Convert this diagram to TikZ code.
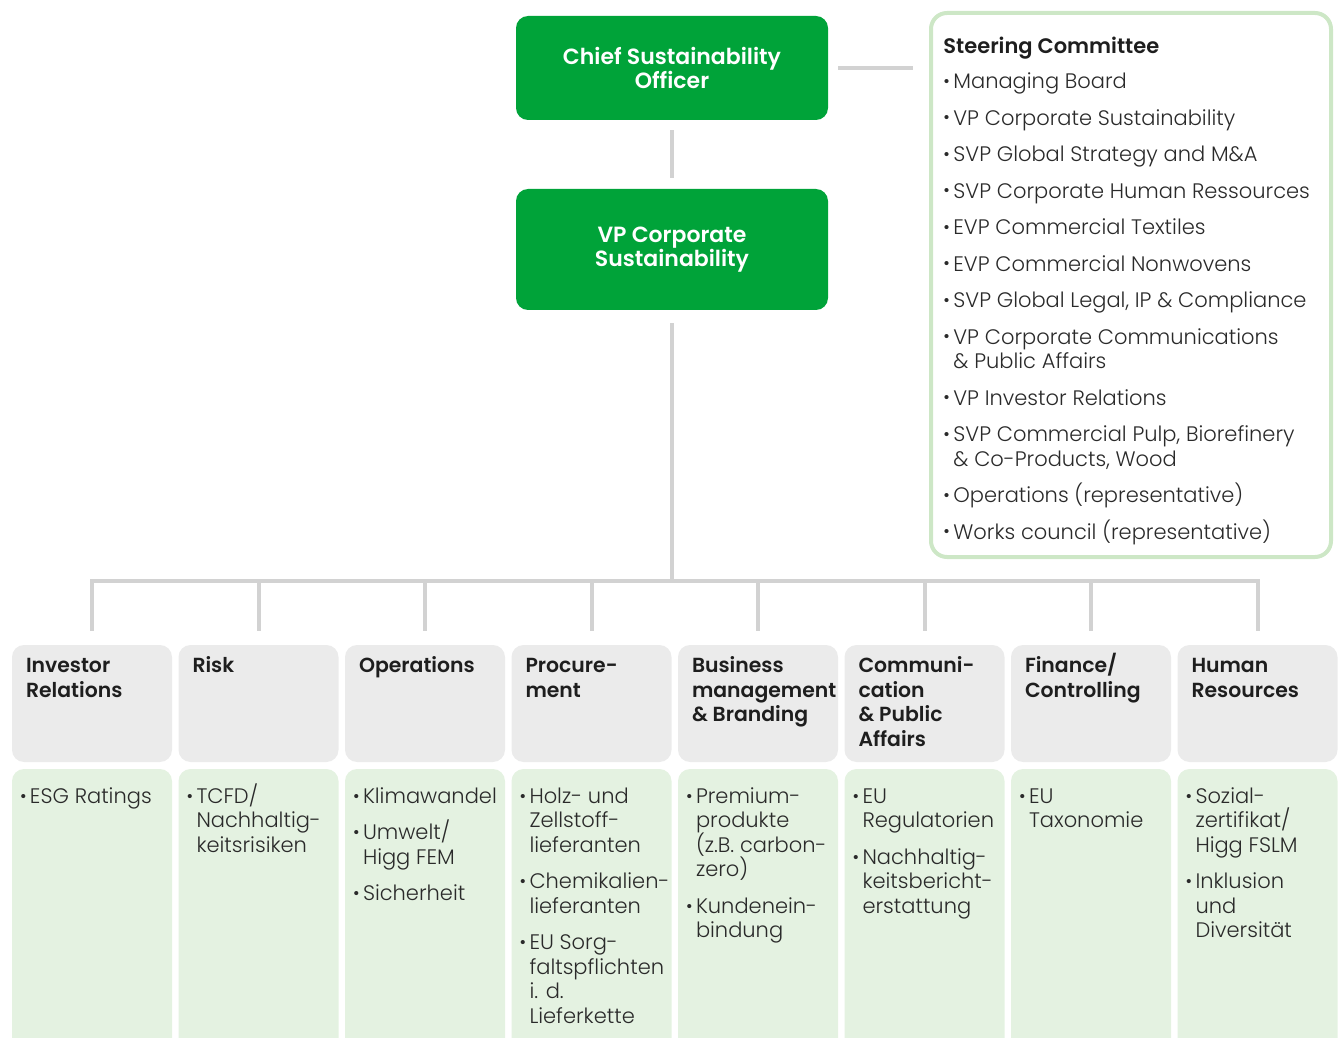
\documentclass[tikz,border=0pt]{standalone}
\usepackage{fontspec}
\usepackage{array}
\setmainfont{Poppins Light}[BoldFont={Poppins SemiBold}]
\usetikzlibrary{calc}

\definecolor{csgreen}{HTML}{00A339}
\definecolor{linegrey}{HTML}{D2D2D2}
\definecolor{headgrey}{HTML}{EBEBEB}
\definecolor{bodygreen}{HTML}{E4F2E1}
\definecolor{framegreen}{HTML}{CDE7C6}
\definecolor{titlec}{HTML}{1E1E1E}
\definecolor{txt}{HTML}{2A2A2A}

% rows keep a fixed pitch: cell contents are smashed, the strut sets the spacing
\newcolumntype{S}{>{\setbox2\hbox\bgroup}l<{\egroup\ht2=0pt\dp2=0pt\box2}}
\newcommand{\bl}{\raisebox{0.1ex}{\scalebox{0.85}{\textbullet}}}
\newenvironment{blist}{\begin{tabular}[t]{@{}p{5pt}@{}S@{}}}{\end{tabular}}
\newenvironment{hlist}{\begin{tabular}[t]{@{}S@{}}}{\end{tabular}}

\begin{document}
\begin{tikzpicture}[x=0.5pt,y=-0.5pt,
  conn/.style={draw=linegrey,line width=2pt},
  topbox/.style={fill=csgreen,rounded corners=6pt,minimum width=156pt,inner sep=0pt,
    text=white,align=center,font=\bfseries\fontsize{11}{12}\selectfont},
  headbox/.style={fill=headgrey,rounded corners=6pt,minimum width=80pt,minimum height=58.5pt,inner sep=0pt},
  bodybox/.style={fill=bodygreen,rounded corners=6pt,minimum width=80pt,minimum height=150pt,inner sep=0pt},
  headtext/.style={anchor=north west,inner sep=0pt,text=titlec,
    font=\bfseries\fontsize{10.2}{12.25}\selectfont},
  listtext/.style={anchor=north west,inner sep=0pt,text=txt,
    font=\fontsize{10.5}{12.25}\selectfont},
]
\useasboundingbox (0,0) rectangle (1341,1038);

\node[topbox,minimum height=52pt] (cso) at (672,68) {Chief Sustainability\\Officer};
\node[topbox,minimum height=60.5pt] (vp) at (672,249.5) {VP Corporate\\Sustainability};

\node[draw=framegreen,line width=2pt,rounded corners=8pt,minimum width=200pt,minimum height=272pt,inner sep=0pt] (steer) at (1131,285) {};
\node[listtext] (stxt) at ([xshift=7pt,yshift=-12.25pt]steer.north west) {\begin{blist}
\multicolumn{2}{@{}l@{}}{\bfseries\color{titlec}Steering Committee}\\[5.5pt]
\bl & Managing Board\\[6pt]
\bl & VP Corporate Sustainability\\[6pt]
\bl & SVP Global Strategy and M\&A\\[6pt]
\bl & SVP Corporate Human Ressources\\[6pt]
\bl & EVP Commercial Textiles\\[6pt]
\bl & EVP Commercial Nonwovens\\[6pt]
\bl & SVP Global Legal, IP \& Compliance\\[6pt]
\bl & VP Corporate Communications\\ & \& Public Affairs\\[6pt]
\bl & VP Investor Relations\\[6pt]
\bl & SVP Commercial Pulp, Biorefinery\\ & \& Co-Products, Wood\\[6pt]
\bl & Operations (representative)\\[6pt]
\bl & Works council (representative)
\end{blist}};

\foreach \i in {1,...,8}{
  \node[headbox] (h\i) at ({92+166.5*(\i-1)},703.5) {};
  \node[bodybox] (b\i) at ({92+166.5*(\i-1)},919) {};
}

\coordinate (bus) at (672,581);
\draw[conn] ([yshift=-5pt]cso.south) -- ([yshift=5.5pt]vp.north);
\draw[conn] ([xshift=5pt]cso.east) -- ($(steer.west |- cso.east)+(-16,0)$);
\draw[conn] ([yshift=-6.5pt]vp.south) -- (bus);
\draw[conn] ([yshift=7pt]h1.north) -- (h1.north |- bus) -- (h8.north |- bus) -- ([yshift=7pt]h8.north);
\foreach \i in {2,...,7}
  \draw[conn] (h\i.north |- bus) -- ([yshift=7pt]h\i.north);

\node[headtext] (ht1) at ([xshift=7pt,yshift=-5.25pt]h1.north west) {\begin{hlist}Investor\\Relations\end{hlist}};
\node[headtext] (ht2) at ([xshift=7pt,yshift=-5.25pt]h2.north west) {\begin{hlist}Risk\end{hlist}};
\node[headtext] (ht3) at ([xshift=7pt,yshift=-5.25pt]h3.north west) {\begin{hlist}Operations\end{hlist}};
\node[headtext] (ht4) at ([xshift=7pt,yshift=-5.25pt]h4.north west) {\begin{hlist}Procure-\\ment\end{hlist}};
\node[headtext] (ht5) at ([xshift=7pt,yshift=-5.25pt]h5.north west) {\begin{hlist}Business\\management\\\& Branding\end{hlist}};
\node[headtext] (ht6) at ([xshift=7pt,yshift=-5.25pt]h6.north west) {\begin{hlist}Communi-\\cation\\\& Public\\Affairs\end{hlist}};
\node[headtext] (ht7) at ([xshift=7pt,yshift=-5.25pt]h7.north west) {\begin{hlist}Finance/\\Controlling\end{hlist}};
\node[headtext] (ht8) at ([xshift=7pt,yshift=-5.25pt]h8.north west) {\begin{hlist}Human\\Resources\end{hlist}};

\node[listtext] (lt1) at ([xshift=4pt,yshift=-8.6pt]b1.north west) {\begin{blist}
\bl & ESG Ratings
\end{blist}};
\node[listtext] (lt2) at ([xshift=4pt,yshift=-8.6pt]b2.north west) {\begin{blist}
\bl & TCFD/\\ & Nachhaltig-\\ & keitsrisiken
\end{blist}};
\node[listtext] (lt3) at ([xshift=4pt,yshift=-8.6pt]b3.north west) {\begin{blist}
\bl & Klimawandel\\[6pt]
\bl & Umwelt/\\ & Higg FEM\\[6pt]
\bl & Sicherheit
\end{blist}};
\node[listtext] (lt4) at ([xshift=4pt,yshift=-8.6pt]b4.north west) {\begin{blist}
\bl & Holz- und\\ & Zellstoff-\\ & lieferanten\\[6pt]
\bl & Chemikalien-\\ & lieferanten\\[6pt]
\bl & EU Sorg-\\ & faltspflichten\\ & i. d.\\ & Lieferkette
\end{blist}};
\node[listtext] (lt5) at ([xshift=4pt,yshift=-8.6pt]b5.north west) {\begin{blist}
\bl & Premium-\\ & produkte\\ & (z.B. carbon-\\ & zero)\\[6pt]
\bl & Kundenein-\\ & bindung
\end{blist}};
\node[listtext] (lt6) at ([xshift=4pt,yshift=-8.6pt]b6.north west) {\begin{blist}
\bl & EU\\ & Regulatorien\\[6pt]
\bl & Nachhaltig-\\ & keitsbericht-\\ & erstattung
\end{blist}};
\node[listtext] (lt7) at ([xshift=4pt,yshift=-8.6pt]b7.north west) {\begin{blist}
\bl & EU\\ & Taxonomie
\end{blist}};
\node[listtext] (lt8) at ([xshift=4pt,yshift=-8.6pt]b8.north west) {\begin{blist}
\bl & Sozial-\\ & zertifikat/\\ & Higg FSLM\\[6pt]
\bl & Inklusion\\ & und\\ & Diversität
\end{blist}};
\end{tikzpicture}
\end{document}
